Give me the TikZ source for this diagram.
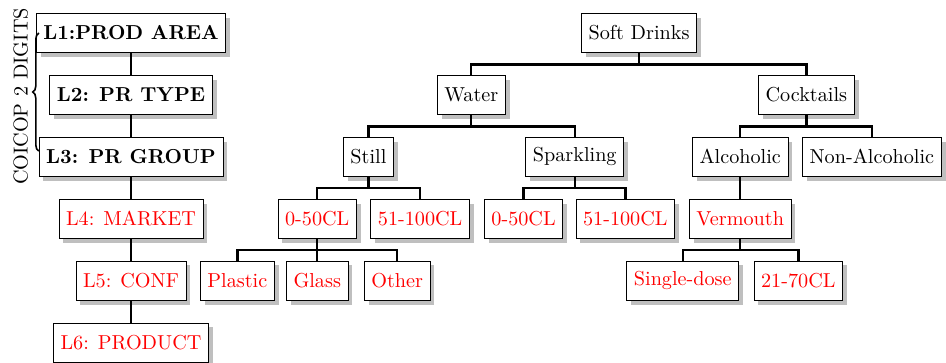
\documentclass[tikz,border=0pt]{standalone}
\usetikzlibrary{shadows,decorations.pathreplacing}
\tikzset{
  box/.style={draw, fill=white, drop shadow, minimum height=0.68cm, inner xsep=3.5pt},
  hi/.style={box, font=\bfseries},
  lo/.style={box, text=red},
  link/.style={very thick},
}
\begin{document}
\begin{tikzpicture}
\useasboundingbox (0,0) rectangle (16.46,-6.30);
% levels of the coding
\foreach \n/\y/\t in {L1/-0.575/L1:PROD AREA,L2/-1.652/L2: PR TYPE,L3/-2.729/L3: PR GROUP}
  \node [hi] (\n) at (2.28,\y) {\t};
\foreach \n/\y/\t in {L4/-3.806/L4: MARKET,L5/-4.883/L5: CONF,L6/-5.96/L6: PRODUCT}
  \node [lo] (\n) at (2.28,\y) {\t};
\foreach \a/\b in {L1/L2,L2/L3,L3/L4,L4/L5,L5/L6} \draw [link] (\a) -- (\b);
\draw [thick,decorate,decoration={brace,amplitude=3pt}] ([xshift=1.5pt,yshift=1mm]L1.west |- L3) -- ([xshift=1.5pt]L1.west);
\node [rotate=90] (coicop) at (0.36,-1.68) {COICOP 2 DIGITS};
% the tree
\foreach \n/\x/\y/\t in {sd/11.12/-0.575/Soft Drinks,water/8.20/-1.652/Water,cock/14.03/-1.652/Cocktails,
  still/6.41/-2.729/Still,spark/10.00/-2.729/Sparkling,alc/12.88/-2.729/Alcoholic,nonalc/15.17/-2.729/Non-Alcoholic}
  \node [box] (\n) at (\x,\y) {\t};
\foreach \n/\x/\y/\t in {sa/5.52/-3.806/0-50CL,sb/7.31/-3.806/51-100CL,pa/9.11/-3.806/0-50CL,pb/10.88/-3.806/51-100CL,
  verm/12.88/-3.806/Vermouth,plastic/4.13/-4.883/Plastic,glass/5.52/-4.883/Glass,other/6.91/-4.883/Other,
  single/11.88/-4.883/Single-dose,cl/13.89/-4.883/21-70CL}
  \node [lo] (\n) at (\x,\y) {\t};
\foreach \p/\c in {sd/water,sd/cock,water/still,water/spark,cock/alc,cock/nonalc,still/sa,still/sb,
  spark/pa,spark/pb,alc/verm,sa/plastic,sa/glass,sa/other,verm/single,verm/cl}
  \draw [link] (\p.south) -- ++(0,-0.2) -| (\c.north);
\end{tikzpicture}
\end{document}
